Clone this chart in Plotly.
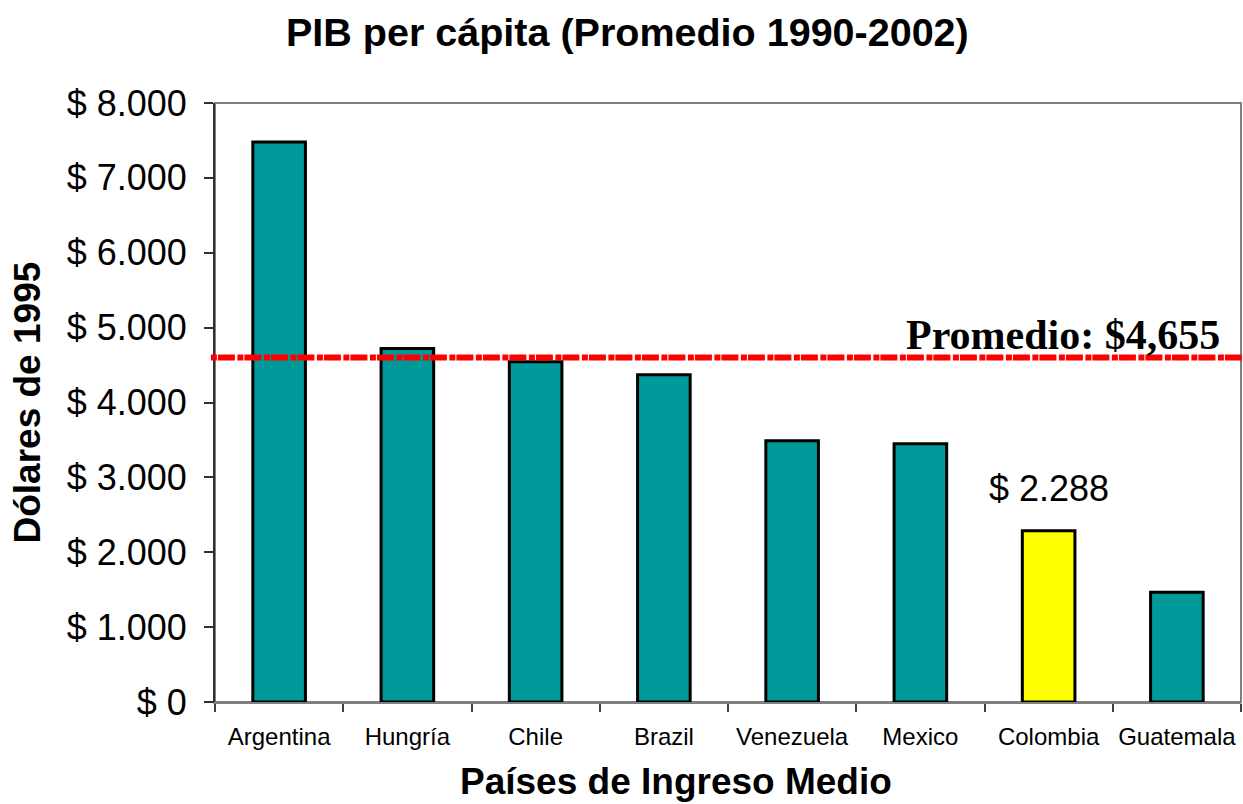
import plotly.graph_objects as go

# ---- data ----
paises = ["Argentina", "Hungría", "Chile", "Brazil", "Venezuela", "Mexico", "Colombia", "Guatemala"]
pib_per_capita = [7480, 4720, 4545, 4370, 3490, 3450, 2288, 1465]
promedio_linea = 4600
promedio_texto = "Promedio: $4,655"
destacado = "Colombia"
y_ticks = [0, 1000, 2000, 3000, 4000, 5000, 6000, 7000, 8000]
y_tick_labels = ["$ 0", "$ 1.000", "$ 2.000", "$ 3.000", "$ 4.000", "$ 5.000", "$ 6.000", "$ 7.000", "$ 8.000"]

TEAL = "#009999"
YELLOW = "#FFFF00"
SANS = "Liberation Sans, Arial, Helvetica, sans-serif"
SERIF = "Liberation Serif, Times New Roman, serif"

colors = [YELLOW if p == destacado else TEAL for p in paises]

fig = go.Figure()
fig.add_trace(go.Bar(
    x=paises, y=pib_per_capita,
    marker=dict(color=colors, line=dict(color="black", width=3)),
    width=0.41, hoverinfo="x+y",
))

# frame (gray top/right)
fig.add_shape(type="rect", xref="paper", yref="paper", x0=0, x1=1, y0=0, y1=1,
              line=dict(color="#808080", width=2), layer="below")

# average line
fig.add_shape(type="line", xref="paper", yref="y", x0=-0.004, x1=1.002,
              y0=promedio_linea, y1=promedio_linea,
              line=dict(color="#FF0000", width=6, dash="6px,1px,17px,2.5px"))

fig.add_annotation(xref="paper", yref="y", x=0.9815, y=promedio_linea,
                   xanchor="right", yanchor="bottom", yshift=-2, showarrow=False,
                   text="<b>" + promedio_texto + "</b>",
                   font=dict(family=SERIF, size=42, color="black"))

# highlighted value label
idx = paises.index(destacado)
val = pib_per_capita[idx]
fig.add_annotation(x=destacado, y=val, xref="x", yref="y", yanchor="bottom", yshift=20,
                   showarrow=False, text="$ " + f"{val:,}".replace(",", "."),
                   font=dict(family=SANS, size=36, color="black"))

# titles
fig.add_annotation(xref="paper", yref="paper", x=(627 - 215) / 1026, y=1 + 71 / 599,
                   xanchor="center", yanchor="middle", showarrow=False,
                   text="<b>PIB per cápita (Promedio 1990-2002)</b>",
                   font=dict(family=SANS, size=39.5, color="black"))
fig.add_annotation(xref="paper", yref="paper", x=(676 - 215) / 1026, y=-(781 - 702) / 599,
                   xanchor="center", yanchor="middle", showarrow=False,
                   text="<b>Países de Ingreso Medio</b>",
                   font=dict(family=SANS, size=37, color="black"))
fig.add_annotation(xref="paper", yref="paper", x=-(215 - 27) / 1026, y=0.5,
                   xanchor="center", yanchor="middle", showarrow=False, textangle=-90,
                   text="<b>Dólares de 1995</b>",
                   font=dict(family=SANS, size=37, color="black"))

fig.update_layout(
    width=1243, height=804,
    margin=dict(l=215, r=2, t=103, b=102),
    paper_bgcolor="white", plot_bgcolor="white",
    showlegend=False,
    bargap=0.59,
    xaxis=dict(
        showline=True, linecolor="#808080", linewidth=2,
        ticks="outside", tickson="boundaries", ticklen=8, tickcolor="#404040", tickwidth=1.5,
        tickfont=dict(family=SANS, size=24, color="black"),
        ticklabelstandoff=12, showgrid=False, zeroline=False,
    ),
    yaxis=dict(
        range=[0, 8000], tickvals=y_ticks, ticktext=y_tick_labels,
        showline=True, linecolor="#303030", linewidth=2,
        ticks="outside", ticklen=9, tickcolor="#303030", tickwidth=1.5,
        tickfont=dict(family=SANS, size=36, color="black"),
        ticklabelstandoff=10, showgrid=False, zeroline=False,
    ),
)

fig.write_html("out.html", config={"displayModeBar": False},
               post_script="document.body.style.margin='0';document.body.style.overflow='hidden';")
